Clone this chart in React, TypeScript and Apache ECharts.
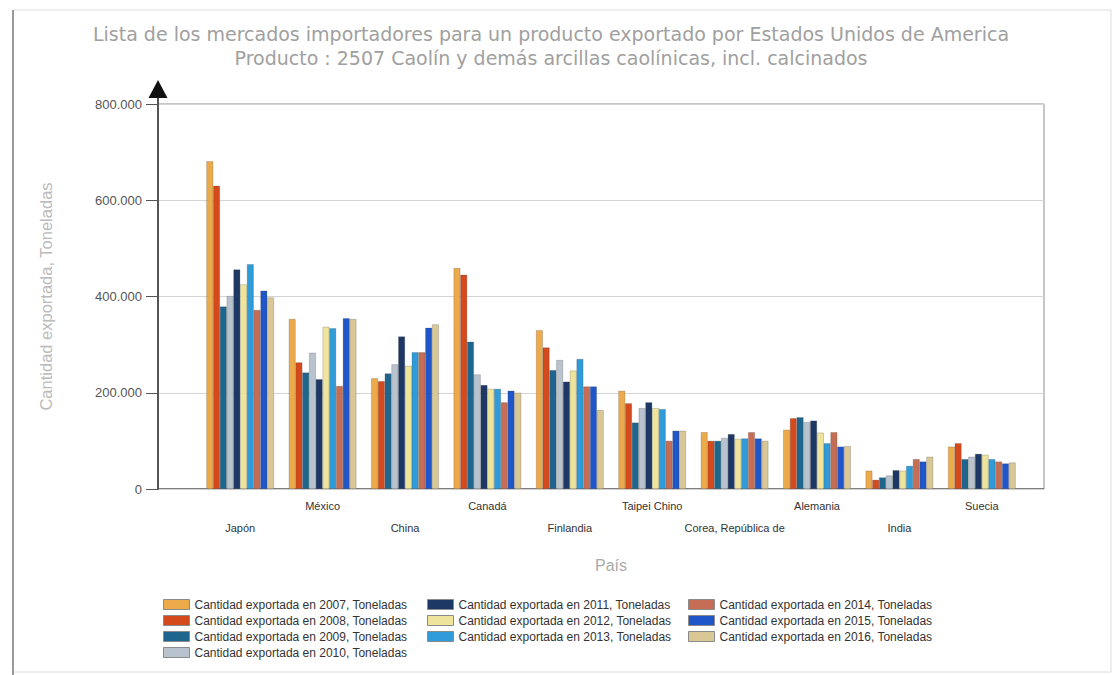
import React, { useEffect, useRef } from "react";
import * as echarts from "echarts";

const countries = ["Japón", "México", "China", "Canadá", "Finlandia", "Taipei Chino", "Corea, República de", "Alemania", "India", "Suecia"];
const years = ["2007", "2008", "2009", "2010", "2011", "2012", "2013", "2014", "2015", "2016"];
const v2007 = [681000, 353000, 230000, 459000, 330000, 204000, 118000, 123000, 38000, 88000];
const v2008 = [630000, 263000, 224000, 445000, 294000, 178000, 100000, 147000, 19000, 95000];
const v2009 = [379000, 242000, 240000, 306000, 247000, 138000, 100000, 149000, 24000, 62000];
const v2010 = [401000, 283000, 259000, 238000, 268000, 168000, 106000, 139000, 28000, 67000];
const v2011 = [456000, 228000, 317000, 216000, 223000, 180000, 114000, 142000, 39000, 73000];
const v2012 = [425000, 337000, 256000, 208000, 246000, 168000, 104000, 117000, 38000, 71000];
const v2013 = [467000, 334000, 284000, 208000, 270000, 166000, 105000, 95000, 48000, 62000];
const v2014 = [372000, 214000, 284000, 180000, 213000, 100000, 118000, 118000, 62000, 57000];
const v2015 = [412000, 355000, 335000, 204000, 213000, 121000, 105000, 88000, 57000, 53000];
const v2016 = [398000, 353000, 342000, 200000, 164000, 121000, 100000, 89000, 67000, 55000];
const yearValues = [v2007, v2008, v2009, v2010, v2011, v2012, v2013, v2014, v2015, v2016];
const colors = ["#EDAA4A", "#D44A1C", "#1F668F", "#B9C3CE", "#1E3866", "#EFE49B", "#2F9BD8", "#C66E55", "#1F56C9", "#D9C796"];
const yTicks = [0, 200000, 400000, 600000, 800000];

const seriesName = (y: string) => `Cantidad exportada en ${y}, Toneladas`;
const fmt = (v: number) => String(v).replace(/\B(?=(\d{3})+(?!\d))/g, ".");

export default function App() {
  const ref = useRef<HTMLDivElement>(null);
  useEffect(() => {
    if (!ref.current) return;
    const chart = echarts.init(ref.current, null, { renderer: "svg" });
    const font = "Liberation Sans";
    const legendStyle = {
      orient: "vertical" as const,
      top: 598,
      padding: 0,
      itemWidth: 26,
      itemHeight: 10,
      itemGap: 3,
      icon: "rect",
      itemStyle: { borderColor: "#8a8a8a", borderWidth: 1 },
      textStyle: { fontSize: 12, color: "#333", fontFamily: font, lineHeight: 13 },
    };
    chart.setOption({
      animation: false,
      backgroundColor: "#fff",
      title: {
        text: "Lista de los mercados importadores para un producto exportado por Estados Unidos de America\nProducto : 2507 Caolín y demás arcillas caolínicas, incl. calcinados",
        left: 551,
        top: 22,
        padding: 0,
        textAlign: "center",
        textStyle: { color: "#a0a0a0", fontSize: 19, fontWeight: "normal", fontFamily: "DejaVu Sans", lineHeight: 24 },
      },
      legend: [
        { ...legendStyle, left: 163, data: years.slice(0, 4).map(seriesName) },
        { ...legendStyle, left: 427, data: years.slice(4, 7).map(seriesName) },
        { ...legendStyle, left: 688, data: years.slice(7, 10).map(seriesName) },
      ],
      grid: [
        { left: 158, right: 71, top: 104, bottom: 186, show: true, borderColor: "#8c8c8c", borderWidth: 1, backgroundColor: "transparent" },
        { left: 199, right: 92, top: 104, bottom: 186 },
      ],
      xAxis: [
        { type: "value", gridIndex: 0, min: 0, max: 1, show: false },
        {
          type: "category",
          gridIndex: 1,
          data: countries,
          axisLine: { show: false },
          axisTick: { show: false },
          axisLabel: {
            interval: 0,
            margin: 6,
            fontSize: 11,
            color: "#333",
            fontFamily: font,
            lineHeight: 22,
            formatter: (v: string, i: number) => (i % 2 === 0 ? "\n" + v : v),
          },
          name: "País",
          nameLocation: "middle",
          nameGap: 68,
          nameTextStyle: { fontSize: 16, color: "#aaa", fontFamily: font },
        },
      ],
      yAxis: [
        {
          type: "value",
          gridIndex: 0,
          min: yTicks[0],
          max: yTicks[yTicks.length - 1],
          interval: 200000,
          axisLine: { show: true, lineStyle: { color: "#555", width: 2 } },
          axisTick: { show: true, length: 12, lineStyle: { color: "#555" } },
          splitLine: { show: true, lineStyle: { color: "#d4d4d4" } },
          axisLabel: { formatter: (v: number) => fmt(v), fontSize: 13, color: "#555", fontFamily: font, margin: 16 },
          name: "Cantidad exportada, Toneladas",
          nameLocation: "middle",
          nameGap: 104,
          nameTextStyle: { fontSize: 16.5, color: "#bbb", fontFamily: font },
        },
        { type: "value", gridIndex: 1, min: yTicks[0], max: yTicks[yTicks.length - 1], show: false },
      ],
      series: yearValues.map((vals, i) => ({
        type: "bar",
        name: seriesName(years[i]),
        xAxisIndex: 1,
        yAxisIndex: 1,
        data: vals,
        barGap: "0%",
        barCategoryGap: "18%",
        itemStyle: { color: colors[i], borderColor: "rgba(60,60,60,0.45)", borderWidth: 0.5 },
      })),
      graphic: [
        { type: "rect", shape: { x: 13, y: 10, width: 1098, height: 662 }, style: { fill: "none", stroke: "#dcdcdc", lineWidth: 1 }, silent: true },
        { type: "line", shape: { x1: 13, y1: 10, x2: 13, y2: 675 }, style: { stroke: "#9a9a9a", lineWidth: 2 }, silent: true },
        { type: "line", shape: { x1: 158, y1: 96, x2: 158, y2: 105 }, style: { stroke: "#555", lineWidth: 2 }, silent: true },
        { type: "polygon", shape: { points: [[148.5, 98], [167.5, 98], [158, 80]] }, style: { fill: "#111" }, silent: true },
        { type: "line", shape: { x1: 158, y1: 489, x2: 1044, y2: 489 }, style: { stroke: "#666", lineWidth: 1.5 }, silent: true },
      ],
    });
    return () => chart.dispose();
  }, []);
  return <div ref={ref} style={{ position: "fixed", left: 0, top: 0, width: 1115, height: 675 }} />;
}
